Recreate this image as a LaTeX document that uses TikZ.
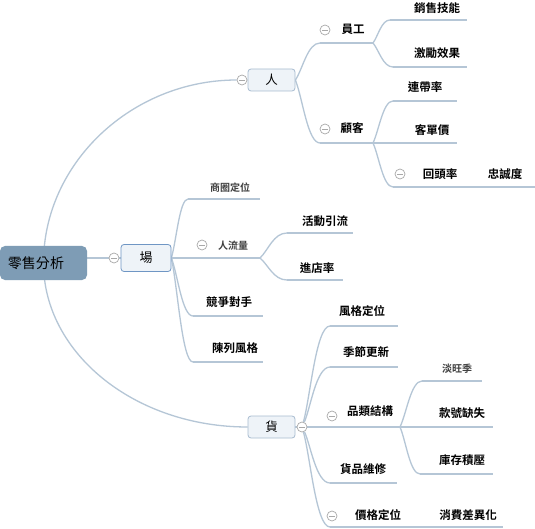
\documentclass[tikz,border=0pt]{standalone}
\usepackage{fontspec}
\newfontfamily\cjk{Noto Sans CJK TC}[BoldFont={Noto Sans CJK TC Bold}]
\usetikzlibrary{calc,backgrounds}
\definecolor{linec}{HTML}{B5C6D6}
\definecolor{rootc}{HTML}{7E9CB5}
\definecolor{boxfill}{HTML}{EEF3F8}
\definecolor{boxline}{HTML}{A8BCD0}
\definecolor{changline}{HTML}{6F96C4}
\definecolor{foldc}{HTML}{A9A9A9}

\begin{document}
\begin{tikzpicture}[x=1pt,y=-1pt,
  branch/.style={draw=linec, line width=1.3pt},
  rootbox/.style={fill=rootc, rounded corners=5pt, minimum height=34pt,
    inner xsep=8pt, inner ysep=0pt, font=\cjk\fontsize{14}{15}\selectfont},
  mainbox/.style={draw=boxline, fill=boxfill, rounded corners=3pt, line width=0.8pt, minimum width=47pt,
    minimum height=22pt, inner sep=0pt, font=\cjk\fontsize{12.5}{13}\selectfont},
  topic/.style={inner sep=0pt, font=\cjk\bfseries\fontsize{11.5}{12}\selectfont},
  subtopic/.style={inner sep=0pt, text=black!75, font=\cjk\bfseries\fontsize{10}{11}\selectfont},
  fold/.style={circle, draw=foldc, fill=white, line width=0.7pt, minimum size=10pt, inner sep=0pt,
    path picture={\draw[foldc, line width=0.7pt] ([xshift=-3pt]path picture bounding box.center)
      -- ([xshift=3pt]path picture bounding box.center);}}
]
\useasboundingbox (0,0) rectangle (535,529);

% Centre
\node[rootbox] (root) at (43.5,263) {\makebox[71pt][l]{零售分析}};
\node[mainbox] (ren) at (271.5,80) {人};
\node[mainbox, draw=changline, minimum width=50pt, minimum height=27pt, font=\cjk\fontsize{13}{13}\selectfont] (chang) at (146,258) {場};
\node[mainbox] (huo) at (271.5,427) {貨};
\node[fold] (f-ren) at (242,80) {};
\node[fold] (f-chang) at (114,258) {};
\node[fold] (f-huo) at (302,427) {};

% People
\node[topic] (yg) at (353,29) {員工};
\coordinate (yg-a) at (320,43);  \coordinate (yg-b) at (373,43);
\node[fold] (f-yg) at (325,30) {};
\node[topic] (xs) at (437,8) {銷售技能};
\coordinate (xs-a) at (390,20);  \coordinate (xs-b) at (467,20);
\node[topic] (jl) at (437,53) {激勵效果};
\coordinate (jl-a) at (393,67);  \coordinate (jl-b) at (467,67);
\node[topic] (gk) at (352,128) {顧客};
\coordinate (gk-a) at (320,143); \coordinate (gk-b) at (373,143);
\node[fold] (f-gk) at (325,129) {};
\node[topic] (ld) at (425,87) {連帶率};
\coordinate (ld-a) at (393,101); \coordinate (ld-b) at (457,101);
\node[topic] (kd) at (432,130) {客單價};
\coordinate (kd-a) at (380,143); \coordinate (kd-b) at (457,143);
\node[topic] (ht) at (440,174) {回頭率};
\coordinate (ht-a) at (393,187); \coordinate (ht-b) at (470,187);
\node[fold] (f-ht) at (400,174) {};
\node[topic] (zc) at (505,174) {忠誠度};
\coordinate (zc-a) at (476,187); \coordinate (zc-b) at (535,187);

% Place
\node[subtopic] (sq) at (230,188) {商圈定位};
\coordinate (sq-a) at (188,199); \coordinate (sq-b) at (260,199);
\node[subtopic] (rl) at (233,246) {人流量};
\coordinate (rl-a) at (180,258); \coordinate (rl-b) at (260,258);
\node[fold] (f-rl) at (202,245) {};
\node[topic] (hd) at (325,221) {活動引流};
\coordinate (hd-a) at (287,233); \coordinate (hd-b) at (353,233);
\node[topic] (jd) at (317,268) {進店率};
\coordinate (jd-a) at (287,280); \coordinate (jd-b) at (343,280);
\node[topic] (jz) at (229,302) {競爭對手};
\coordinate (jz-a) at (193,316); \coordinate (jz-b) at (263,316);
\node[topic] (cl) at (235,348) {陳列風格};
\coordinate (cl-a) at (193,362); \coordinate (cl-b) at (263,362);

% Goods
\node[topic] (fg) at (362,311) {風格定位};
\coordinate (fg-a) at (330,326); \coordinate (fg-b) at (398,326);
\node[topic] (jj) at (366,352) {季節更新};
\coordinate (jj-a) at (330,367); \coordinate (jj-b) at (398,367);
\node[topic] (pl) at (370,411) {品類結構};
\coordinate (pl-a) at (310,427); \coordinate (pl-b) at (400,427);
\node[fold] (f-pl) at (332,416) {};
\node[subtopic] (dw) at (457,369) {淡旺季};
\coordinate (dw-a) at (422,381); \coordinate (dw-b) at (482,381);
\node[topic] (kh) at (462,413) {款號缺失};
\coordinate (kh-a) at (410,427); \coordinate (kh-b) at (493,427);
\node[topic] (kc) at (462,460) {庫存積壓};
\coordinate (kc-a) at (420,474); \coordinate (kc-b) at (493,474);
\node[topic] (wx) at (363,469) {貨品維修};
\coordinate (wx-a) at (330,483); \coordinate (wx-b) at (397,483);
\node[topic] (jg) at (378,515) {價格定位};
\coordinate (jg-a) at (330,527); \coordinate (jg-b) at (425,527);
\node[fold] (f-jg) at (332,516) {};
\node[topic] (xf) at (468,515) {消費差異化};
\coordinate (xf-a) at (430,527); \coordinate (xf-b) at (503,527);

\begin{scope}[on background layer]
  \fill[white] (0,0) rectangle (535,529);
  % Main branches
  \draw[branch] (root.center) .. controls +(0,-100) and +(-110,0) .. (f-ren) -- (ren);
  \draw[branch] (root.center) .. controls +(0,90) and +(-113,0) .. (huo.west);
  \draw[branch] (root.east |- f-chang) -- (f-chang) -- (chang);
  \draw[branch] (huo) -- (f-huo);
  % Sub branches
  \foreach \p/\c in {ren.east/yg-a, ren.east/gk-a, yg-b/xs-a, yg-b/jl-a, gk-b/ld-a, gk-b/kd-a,
      gk-b/ht-a, ht-b/zc-a, chang.east/sq-a, chang.east/rl-a, chang.east/jz-a, chang.east/cl-a,
      rl-b/hd-a, rl-b/jd-a, f-huo/fg-a, f-huo/jj-a, f-huo/pl-a, f-huo/wx-a, f-huo/jg-a,
      pl-b/dw-a, pl-b/kh-a, pl-b/kc-a, jg-b/xf-a}
    \draw[branch] (\p) .. controls ($(\p)!.3!(\c)$) and ($(\c)!.5!(\p|-\c)$) .. (\c);
  % Underlines
  \foreach \n in {yg,xs,jl,gk,ld,kd,ht,zc,sq,rl,hd,jd,jz,cl,fg,jj,pl,dw,kh,kc,wx,jg,xf}
    \draw[branch] (\n-a) -- (\n-b);
\end{scope}
\end{tikzpicture}
\end{document}
